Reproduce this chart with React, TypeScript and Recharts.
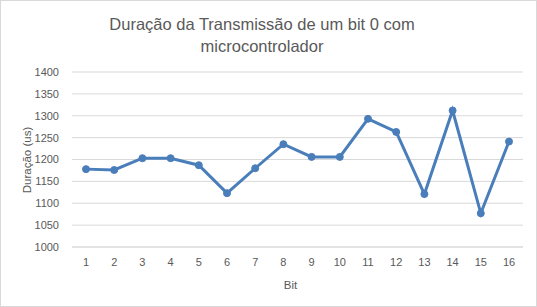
import React from 'react';
import { LineChart, Line, XAxis, YAxis, CartesianGrid } from 'recharts';

const bits = ['1', '2', '3', '4', '5', '6', '7', '8', '9', '10', '11', '12', '13', '14', '15', '16'];
const durations = [1178, 1176, 1203, 1203, 1187, 1123, 1180, 1235, 1206, 1206, 1293, 1263, 1121, 1312, 1077, 1241];
const yTicks = [1000, 1050, 1100, 1150, 1200, 1250, 1300, 1350, 1400];

const data = bits.map((b, i) => ({ bit: b, value: durations[i] }));

const FONT = '"Liberation Sans", Arial, sans-serif';
const TEXT = '#595959';

export default function App() {
  return (
    <div
      style={{
        position: 'fixed',
        left: 0,
        top: 0,
        width: 537,
        height: 307,
        boxSizing: 'border-box',
        border: '1px solid #d9d9d9',
        background: '#fff',
        fontFamily: FONT,
      }}
    >
      <div
        style={{
          position: 'absolute',
          left: 0,
          width: 522,
          top: 12,
          textAlign: 'center',
          fontSize: 16.5,
          lineHeight: '22px',
          color: TEXT,
        }}
      >
        Duração da Transmissão de um bit 0 com
        <br />
        microcontrolador
      </div>
      <div style={{ position: 'absolute', left: -1, top: -1 }}>
        <LineChart
          width={537}
          height={307}
          data={data}
          margin={{ top: 72, right: 14, bottom: 15, left: 0 }}
        >
          <CartesianGrid vertical={false} stroke="#d9d9d9" strokeWidth={1} />
          <XAxis
            dataKey="bit"
            height={45}
            padding={{ left: 14, right: 14 }}
            tickLine={false}
            axisLine={{ stroke: '#d9d9d9' }}
            tickMargin={5}
            interval={0}
            tick={{ fill: TEXT, fontSize: 11, fontFamily: FONT }}
            label={{
              value: 'Bit',
              position: 'insideBottom',
              offset: 3,
              dx: -7,
              fill: TEXT,
              fontSize: 11.5,
              fontFamily: FONT,
            }}
          />
          <YAxis
            width={72}
            domain={[1000, 1400]}
            ticks={yTicks}
            tickLine={false}
            axisLine={false}
            tickMargin={7}
            interval={0}
            tick={{ fill: TEXT, fontSize: 11, fontFamily: FONT }}
            label={{
              content: () => (
                <text
                  x={27}
                  y={160}
                  transform="rotate(-90 27 160)"
                  textAnchor="middle"
                  dominantBaseline="central"
                  fill={TEXT}
                  fontSize={11.5}
                  fontFamily={FONT}
                >
                  Duração (us)
                </text>
              ),
            }}
          />
          <Line
            type="linear"
            dataKey="value"
            stroke="#4a7ebb"
            strokeWidth={3}
            dot={{ r: 3.5, fill: '#4a7ebb', stroke: '#4a7ebb', strokeWidth: 1 }}
            activeDot={false}
            isAnimationActive={false}
          />
        </LineChart>
      </div>
    </div>
  );
}
